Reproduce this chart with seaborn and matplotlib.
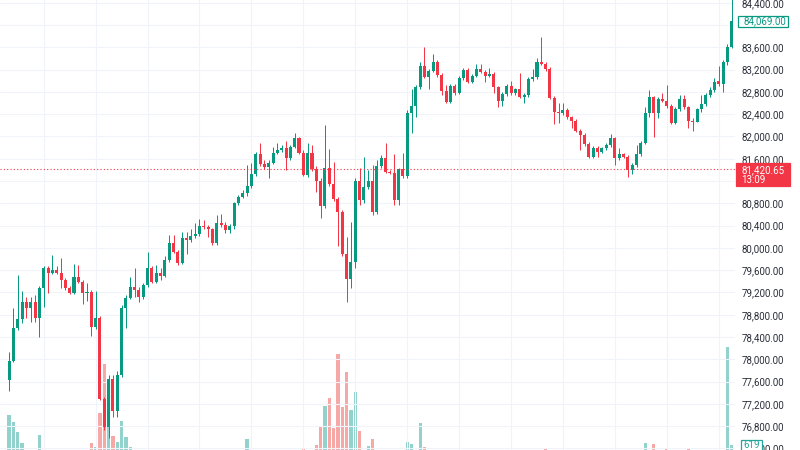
import numpy as np
import pandas as pd
import matplotlib
matplotlib.use("Agg")
import matplotlib.pyplot as plt
import seaborn as sns
from matplotlib.ticker import FuncFormatter, MultipleLocator
from matplotlib.patches import Rectangle

# ---------------- data (hourly candles) ----------------
opens = [77629, 77975, 78557, 78719, 79035, 78916, 79035, 78736, 79275, 79634,
         79555, 79612, 79555, 79424, 79275, 79196, 79472, 79393, 79196, 79214,
         78575, 78736, 77283, 76780, 77647, 77078, 77719, 78927, 79106, 79293,
         79244, 79113, 79334, 79634, 79393, 79544, 79501, 79783, 80083, 79932,
         79734, 80178, 80142, 80205, 80244, 80399, 80375, 80339, 80083, 80442,
         80411, 80321, 80399, 80801, 80919, 80980, 81111, 81327, 81686, 81506,
         81452, 81530, 81709, 81757, 81788, 81608, 81817, 81968, 81709, 81309,
         81709, 81411, 81206, 80752, 81429, 81147, 80872, 80650, 79885, 79442,
         79747, 81206, 80860, 81088, 81206, 80639, 81470, 81608, 81368, 81350,
         80860, 81411, 81291, 82416, 82547, 82883, 83271, 83073, 83181, 83332,
         83104, 82822, 82624, 82912, 82786, 83044, 83193, 82983, 83091, 83211,
         83163, 83086, 83122, 82883, 82642, 82763, 82906, 82775, 82847, 82714,
         82745, 83027, 83062, 83332, 83301, 83211, 82696, 82445, 82416, 82475,
         82344, 82283, 82104, 82027, 81865, 81637, 81799, 81727, 81788, 81847,
         81968, 81608, 81686, 81637, 81398, 81488, 81686, 81889, 82427, 82703,
         82427, 82668, 82646, 82547, 82247, 82488, 82668, 82524, 82283, 82265,
         82488, 82583, 82745, 82834, 82996, 82937, 83342, 83612]

closes = [77975, 78557, 78719, 79035, 78916, 79035, 78736, 79275, 79634, 79555,
          79612, 79555, 79424, 79275, 79196, 79472, 79393, 79196, 79214, 78575,
          78736, 77283, 76780, 77647, 77078, 77719, 78927, 79106, 79293, 79244,
          79113, 79334, 79634, 79393, 79544, 79501, 79783, 80083, 79932, 79734,
          80178, 80142, 80205, 80244, 80399, 80375, 80339, 80083, 80442, 80411,
          80321, 80399, 80801, 80919, 80980, 81111, 81327, 81686, 81506, 81452,
          81530, 81709, 81757, 81788, 81608, 81817, 81968, 81709, 81309, 81709,
          81411, 81206, 80752, 81429, 81147, 80872, 80650, 79885, 79442, 79747,
          81206, 80860, 81088, 81206, 80639, 81470, 81608, 81368, 81350, 80860,
          81411, 81291, 82416, 82547, 82883, 83271, 83073, 83181, 83332, 83104,
          82822, 82624, 82912, 82786, 83044, 83193, 82983, 83091, 83211, 83163,
          83086, 83122, 82883, 82642, 82763, 82906, 82775, 82847, 82714, 82745,
          83027, 83062, 83332, 83301, 83211, 82696, 82445, 82416, 82475, 82344,
          82283, 82104, 82027, 81865, 81637, 81799, 81727, 81788, 81847, 81968,
          81608, 81686, 81637, 81398, 81488, 81686, 81889, 82427, 82703, 82427,
          82668, 82646, 82547, 82247, 82488, 82668, 82524, 82283, 82265, 82488,
          82583, 82745, 82834, 82983, 82937, 83342, 83612, 84069]

highs = [78137, 78916, 79514, 79232, 79119, 79124, 79155, 79316, 79675, 79675,
         79873, 79675, 79824, 79460, 79316, 79706, 79693, 79424, 79370, 79244,
         79227, 78778, 77324, 77719, 77719, 77796, 78975, 79155, 79483, 79634,
         79298, 79370, 79932, 79675, 79693, 79634, 79855, 80232, 80232, 79962,
         80291, 80291, 80334, 80442, 80519, 80501, 80411, 80357, 80591, 80609,
         80465, 80429, 80824, 80950, 81040, 81488, 81519, 81722, 81889, 81578,
         81578, 81806, 81878, 81847, 81919, 81847, 82068, 81991, 81757, 81889,
         81847, 81470, 81255, 82206, 81775, 81547, 80914, 80680, 80201, 80465,
         81255, 81429, 81637, 81399, 81488, 81578, 81668, 81889, 81399, 81686,
         81434, 81709, 82475, 82847, 82924, 83342, 83612, 83211, 83481, 83373,
         83140, 82924, 82942, 82942, 83086, 83229, 83229, 83122, 83301, 83301,
         83193, 83224, 83158, 82906, 82799, 82942, 83001, 82870, 83134, 82781,
         83068, 83206, 83409, 83780, 83337, 83247, 82727, 82596, 82596, 82511,
         82368, 82314, 82134, 82063, 81901, 81829, 81829, 81811, 81883, 82039,
         81991, 81788, 81704, 81668, 81524, 81847, 81919, 82524, 82834, 82727,
         82709, 82786, 82924, 82583, 82529, 82745, 82745, 82547, 82332, 82511,
         82745, 82781, 82894, 83044, 83271, 83373, 83660, 84520]

lows = [77437, 77950, 78530, 78652, 78742, 78675, 78675, 78395, 78945, 79196,
        79532, 79532, 79275, 79244, 79173, 79173, 79370, 78988, 79047, 78424,
        78545, 77270, 76731, 76582, 76970, 76970, 77683, 78568, 79083, 79124,
        79035, 79083, 79298, 79370, 79370, 79424, 79478, 79747, 79909, 79693,
        79711, 79891, 80106, 80178, 80214, 80339, 80201, 80052, 80052, 80375,
        80268, 80262, 80334, 80770, 80896, 80932, 81075, 81291, 81470, 81416,
        81260, 81506, 81686, 81722, 81398, 81578, 81793, 81686, 81291, 81273,
        81381, 81009, 80531, 80716, 81111, 80842, 80040, 79855, 79035, 79275,
        79639, 80770, 80801, 81057, 80591, 80609, 81434, 81345, 81327, 80770,
        80770, 81255, 81255, 82057, 82355, 82852, 83050, 82847, 83158, 83068,
        82745, 82601, 82601, 82745, 82763, 83014, 82960, 82960, 83068, 83140,
        82983, 83068, 82775, 82535, 82547, 82727, 82745, 82745, 82691, 82607,
        82709, 82996, 83032, 83283, 83176, 82673, 82224, 82247, 82386, 82314,
        82147, 82086, 81757, 81829, 81614, 81614, 81632, 81704, 81757, 81811,
        81488, 81578, 81614, 81278, 81327, 81452, 81650, 81865, 82355, 81996,
        82326, 82619, 82511, 82224, 82224, 82458, 82493, 82147, 82104, 82260,
        82440, 82547, 82709, 82799, 82906, 82804, 83283, 83588]

volumes = [3271, 2679, 1768, 840, 150, 120, 160, 1459, 140, 110,
           130, 100, 150, 120, 90, 140, 110, 130, 100, 840,
           442, 3421, 7779, 2210, 1414, 911, 2740, 1370, 469, 150,
           120, 100, 160, 130, 90, 80, 120, 150, 110, 100,
           140, 90, 80, 100, 120, 90, 80, 130, 140, 100,
           90, 80, 160, 120, 110, 1149, 150, 140, 130, 90,
           100, 120, 90, 80, 140, 110, 130, 120, 327, 160,
           150, 605, 2237, 4093, 4800, 2095, 8637, 4005, 7045, 3713,
           5331, 1856, 170, 557, 1149, 170, 140, 150, 100, 160,
           150, 140, 857, 681, 170, 2537, 415, 130, 140, 120,
           150, 110, 100, 90, 110, 100, 120, 80, 90, 80,
           100, 70, 120, 140, 100, 90, 100, 80, 110, 90,
           120, 90, 130, 160, 265, 150, 160, 110, 90, 100,
           110, 120, 140, 120, 150, 110, 90, 80, 90, 110,
           150, 100, 80, 140, 100, 120, 130, 822, 170, 681,
           140, 120, 265, 160, 130, 120, 110, 327, 120, 140,
           110, 120, 130, 150, 160, 170, 9282, 619]

last_price = 81420.65
countdown = "13:09"
hidden_ticks = [84000, 81200]   # price-scale labels covered by the tags

# ---------------- style ----------------
UP, DOWN = "#089981", "#F23645"
VUP, VDOWN = "#26a69a", "#ef5350"
GRID = "#f0f3fa"
TXT = "#2a2e39"

sns.set_theme(style="white")
plt.rcParams['font.family'] = ['Roboto', 'DejaVu Sans']

n = len(closes)
df = pd.DataFrame({
    "idx": np.arange(n),
    "open": opens, "high": highs, "low": lows, "close": closes,
    "volume": volumes,
})
df["dir"] = np.where(df["close"] >= df["open"], "up", "down")

W, H = 800, 450
fig = plt.figure(figsize=(W / 100, H / 100), dpi=100)
fig.patch.set_facecolor("white")
rect = [0, 0, 735 / W, 1]

# volume pane (behind)
axv = fig.add_axes(rect)
axv.set_facecolor("white")
sns.barplot(data=df, x="idx", y="volume", hue="dir",
            palette={"up": VUP, "down": VDOWN}, dodge=False, native_scale=True,
            width=0.75, alpha=0.5, errorbar=None, legend=False,
            saturation=1, linewidth=0, ax=axv)
axv.set_ylim(177, 39957)
axv.set_axis_off()

# price pane (on top, transparent)
ax = fig.add_axes(rect, sharex=axv)
ax.patch.set_alpha(0)

colors = np.where(df["dir"] == "up", UP, DOWN)
ax.vlines(df["idx"], df["low"], df["high"], colors=colors, lw=0.72, zorder=2)
body_low = np.minimum(df["open"], df["close"])
body_h = np.maximum(np.abs(df["close"] - df["open"]), 18)
ax.bar(df["idx"], body_h, bottom=body_low, width=0.7, color=colors,
       linewidth=0, zorder=3)

ax.axhline(last_price, color=DOWN, lw=0.8, linestyle=(0, (1, 2)), zorder=4)

ax.set_xlim(-2.103, 167.76)
ax.set_ylim(76372.5, 84450)
ax.yaxis.set_major_locator(MultipleLocator(400))
ax.set_xticks(np.arange(8, n, 12))
ax.grid(True, color=GRID, lw=0.8)
ax.set_axisbelow(True)
ax.tick_params(axis="x", length=0, labelbottom=False)
ax.yaxis.tick_right()
ax.tick_params(axis="y", length=0, pad=4.8, labelsize=7, labelcolor=TXT)
ax.yaxis.set_major_formatter(
    FuncFormatter(lambda v, p: "" if round(v) in hidden_ticks else f"{v:,.2f}"))
for s in ax.spines.values():
    s.set_visible(False)
for s in axv.spines.values():
    s.set_visible(False)


def tag(axis, value, lines, fc, ec, tc, left, width, height, top_off, line_off):
    """Draw a price-scale tag anchored at a data value (pixel geometry)."""
    y_disp = axis.transData.transform((0, value))[1]
    top = y_disp + top_off
    fig.add_artist(Rectangle((left / W, (top - height) / H), width / W, height / H,
                             transform=fig.transFigure, facecolor=fc, edgecolor=ec,
                             lw=0.9, zorder=20))
    for k, s in enumerate(lines):
        fig.text((left + 6) / W if width > 30 else (left + width / 2) / W,
                 (top - line_off[k]) / H, s,
                 ha="left" if width > 30 else "center", va="center",
                 fontsize=7, color=tc, zorder=21)


# last candle close tag
tag(ax, closes[-1], [f"{closes[-1]:,.2f}"], "white", UP, UP,
    738, 50, 10.5, 5.2, [5.2])
# current price tag with countdown
tag(ax, last_price, [f"{last_price:,.2f}", countdown], DOWN, DOWN, "white",
    735.5, 54, 23, 6.0, [7.0, 17.5])
# last volume tag
tag(axv, volumes[-1], [f"{volumes[-1]}"], "white", VUP, VUP,
    741, 21, 11, 5.5, [5.5])

fig.savefig("out.png", dpi=100, facecolor="white")
